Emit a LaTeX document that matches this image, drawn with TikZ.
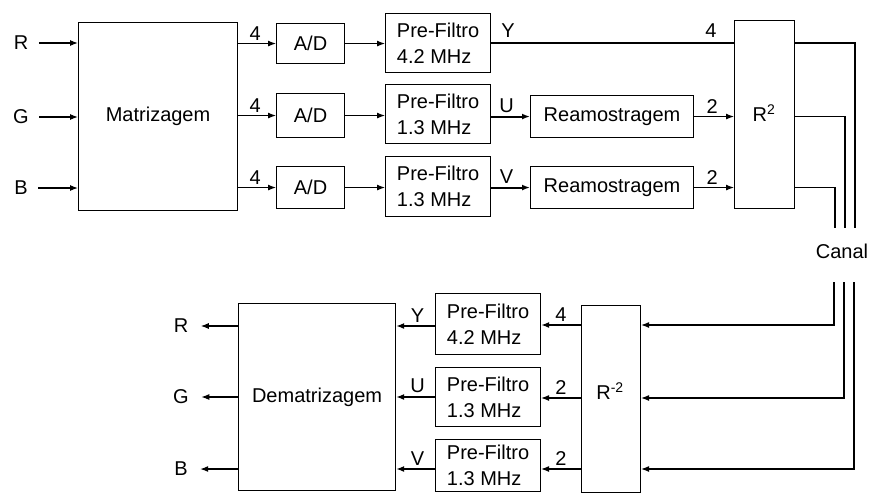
\documentclass[tikz,border=0pt]{standalone}
\usepackage{fontspec}
\setmainfont{Liberation Sans}
\usetikzlibrary{arrows.meta}
\begin{document}
\begin{tikzpicture}[x=1pt,y=-1pt,
  font=\fontsize{20}{26}\selectfont,
  every path/.style={line width=1.1pt},
  blk/.style={draw,line width=1.1pt,inner sep=0pt,anchor=north west},
  lbl/.style={inner sep=0pt},
  sig/.style={-{Latex[length=8pt,width=6pt]}},
  thk/.style={line width=2pt}]
\useasboundingbox (0,0) rectangle (869,493);
% ---------- top: transmitter ----------
\node[blk,minimum width=159pt,minimum height=188pt] (mat) at (78,22) {Matrizagem};
\node[inner xsep=10pt,inner ysep=0pt] (iR) at (21,43) {R};
\node[inner xsep=10pt,inner ysep=0pt] (iG) at (21,117) {G};
\node[inner xsep=10pt,inner ysep=0pt] (iB) at (21,188) {B};
\draw[sig] (iR.east) -- (iR.east -| mat.west);
\draw[sig] (iG.east) -- (iG.east -| mat.west);
\draw[sig] (iB.east) -- (iB.east -| mat.west);

\node[blk,minimum width=68pt,minimum height=40pt] (ad1) at (276,23) {A/D};
\node[blk,minimum width=68pt,minimum height=44pt] (ad2) at (276,93) {A/D};
\node[blk,minimum width=68pt,minimum height=42pt] (ad3) at (276,166) {A/D};
\draw[sig] (mat.east |- ad1.west) -- node[lbl,above=3pt,pos=0.45]{4} (ad1.west);
\draw[sig] (mat.east |- ad2.west) -- node[lbl,above=3pt,pos=0.45]{4} (ad2.west);
\draw[sig] (mat.east |- ad3.west) -- node[lbl,above=3pt,pos=0.45]{4} (ad3.west);

\node[blk,minimum width=105pt,minimum height=59pt,align=left] (pf1) at (385,13) {Pre-Filtro\\4.2 MHz};
\node[blk,minimum width=105pt,minimum height=59pt,align=left] (pf2) at (385,84) {Pre-Filtro\\1.3 MHz};
\node[blk,minimum width=105pt,minimum height=60pt,align=left] (pf3) at (385,156) {Pre-Filtro\\1.3 MHz};
\draw[sig] (ad1.east) -- (ad1.east -| pf1.west);
\draw[sig] (ad2.east) -- (ad2.east -| pf2.west);
\draw[sig] (ad3.east) -- (ad3.east -| pf3.west);

\node[blk,minimum width=163pt,minimum height=42pt] (rs1) at (530,95) {Reamostragem};
\node[blk,minimum width=163pt,minimum height=42pt] (rs2) at (530,166) {Reamostragem};
\node[blk,minimum width=60pt,minimum height=188pt] (r2) at (734,20) {};
\node[lbl] at (764,113) {R\textsuperscript{2}};

\draw[thk] (pf1.east) -- (pf1.east -| r2.west);
\node[lbl] at (508,31) {Y};
\node[lbl] at (711,31) {4};
\draw[sig,thk] (rs1.west -| pf2.east) -- node[lbl,above=3pt,pos=0.4]{U} (rs1.west);
\draw[sig,thk] (rs2.west -| pf3.east) -- node[lbl,above=3pt,pos=0.4]{V} (rs2.west);
\draw[sig] (rs1.east) -- node[lbl,above=3pt,pos=0.45]{2} (rs1.east -| r2.west);
\draw[sig] (rs2.east) -- node[lbl,above=3pt,pos=0.45]{2} (rs2.east -| r2.west);

\coordinate (cy) at (855,228);
\coordinate (cu) at (845,228);
\coordinate (cv) at (835,228);
\draw[thk] (r2.east |- pf1.east) -| (cy);
\draw (r2.east |- rs1.east) -| (cu);
\draw (r2.east |- rs2.east) -| (cv);

\node[lbl] (canal) at (842,251) {Canal};

% ---------- bottom: receiver ----------
\node[blk,minimum width=59pt,minimum height=187pt] (r2i) at (581,305) {};
\node[lbl] at (610,391) {R\textsuperscript{-2}};

\node[blk,minimum width=105pt,minimum height=61pt,align=left] (pf4) at (435,293) {Pre-Filtro\\4.2 MHz};
\node[blk,minimum width=105pt,minimum height=59pt,align=left] (pf5) at (435,367) {Pre-Filtro\\1.3 MHz};
\node[blk,minimum width=105pt,minimum height=52pt,align=left] (pf6) at (435,439) {Pre-Filtro\\1.3 MHz};

\coordinate (d1) at (834,282);
\coordinate (d2) at (844,282);
\coordinate (d3) at (854,282);
\draw[sig] (d1) |- (r2i.east |- 0,325);
\draw[sig] (d2) |- (r2i.east |- 0,398);
\draw[sig] (d3) |- (r2i.east |- 0,469);

\draw[sig,thk] (r2i.west |- 0,325) -- node[lbl,above=3pt]{4} (pf4.east |- 0,325);
\draw[sig] (r2i.west |- 0,398) -- node[lbl,above=3pt]{2} (pf5.east |- 0,398);
\draw[sig] (r2i.west |- 0,469) -- node[lbl,above=3pt]{2} (pf6.east |- 0,469);

\node[blk,minimum width=157pt,minimum height=187pt] (dem) at (238,303) {Dematrizagem};
\draw[sig,thk] (pf4.west |- 0,326) -- node[lbl,above=3pt,pos=0.45]{Y} (dem.east |- 0,326);
\draw[sig,thk] (pf5.west |- 0,397) -- node[lbl,above=3pt,pos=0.45]{U} (dem.east |- 0,397);
\draw[sig,thk] (pf6.west |- 0,469) -- node[lbl,above=3pt,pos=0.45]{V} (dem.east |- 0,469);

\node[inner xsep=12pt,inner ysep=0pt] (oR) at (181,326) {R};
\node[inner xsep=12pt,inner ysep=0pt] (oG) at (181,397) {G};
\node[inner xsep=12pt,inner ysep=0pt] (oB) at (181,469) {B};
\draw[sig] (dem.west |- oR.east) -- (oR.east);
\draw[sig] (dem.west |- oG.east) -- (oG.east);
\draw[sig] (dem.west |- oB.east) -- (oB.east);
\end{tikzpicture}
\end{document}
